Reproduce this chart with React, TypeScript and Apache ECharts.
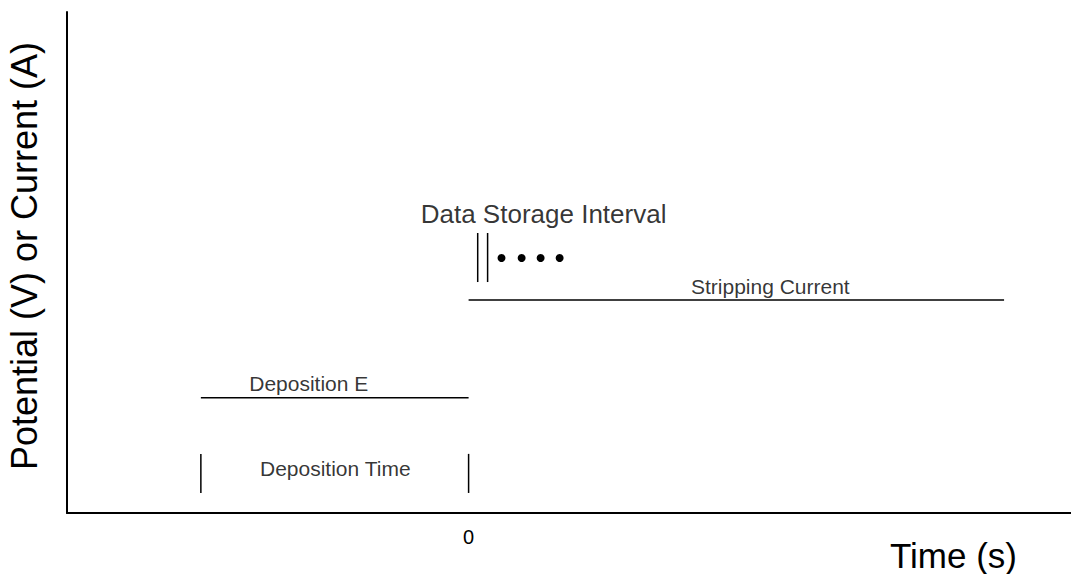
import React, { useEffect, useRef } from "react";
import * as echarts from "echarts";

// Time axis (s): deposition starts at -1, stripping runs from 0 to 2
const depositionE: [number, number][] = [[-1, 2.3], [0, 2.3]];
const strippingCurrent: [number, number][] = [[0, 4.25], [2, 4.25]];
const depositionTimeStart: [number, number][] = [[-1, 0.4], [-1, 1.18]];
const depositionTimeEnd: [number, number][] = [[0, 0.4], [0, 1.18]];
const storageMark1: [number, number][] = [[0.034, 4.61], [0.034, 5.59]];
const storageMark2: [number, number][] = [[0.071, 4.61], [0.071, 5.59]];
const samplePoints: [number, number][] = [[0.123, 5.09], [0.198, 5.09], [0.269, 5.09], [0.34, 5.09]];

const annotationNames = ["Deposition E", "Deposition Time", "Stripping Current", "Data Storage Interval"];
const annotationX = [-0.597, -0.498, 1.127, 0.28];
const annotationY = [2.59, 0.88, 4.53, 5.97];
const annotationSize = [21, 21, 21, 26];

const xTickLabels = [0];

const FONT = "Liberation Sans, Arial, sans-serif";

export default function App() {
  const ref = useRef<HTMLDivElement>(null);
  useEffect(() => {
    if (!ref.current) return;
    const chart = echarts.init(ref.current, undefined, { renderer: "svg" });
    const lineStyle = { color: "#000", width: 1.5 };
    const seg = (data: [number, number][]) => ({
      type: "line",
      data,
      symbol: "none",
      lineStyle,
      silent: true,
    });
    chart.setOption({
      animation: false,
      backgroundColor: "#fff",
      textStyle: { fontFamily: FONT, color: "#000" },
      grid: { left: 67, right: 0, top: 12, bottom: 61, containLabel: false, outerBoundsMode: "none" },
      xAxis: {
        type: "value",
        min: -1.5,
        max: 2.25,
        interval: 0.75,
        name: "Time (s)",
        nameLocation: "end",
        nameTextStyle: { fontSize: 35, color: "#000", fontFamily: FONT, align: "right", verticalAlign: "top", padding: [25, 69, 0, 0] },
        axisLine: { show: true, onZero: false, lineStyle: { color: "#000", width: 2 } },
        axisTick: { show: false },
        splitLine: { show: false },
        axisLabel: {
          customValues: xTickLabels,
          fontSize: 20,
          color: "#000",
          fontFamily: FONT,
          margin: 14,
        },
      },
      yAxis: {
        type: "value",
        min: 0,
        max: 10,
        name: "Potential (V) or Current (A)",
        nameLocation: "middle",
        nameGap: 25,
        nameTextStyle: { fontSize: 36, color: "#000", fontFamily: FONT, padding: [0, 0, 0, 13] },
        axisLine: { show: true, onZero: false, lineStyle: { color: "#000", width: 2 } },
        axisTick: { show: false },
        axisLabel: { show: false },
        splitLine: { show: false },
      },
      series: [
        seg(depositionE),
        seg(strippingCurrent),
        seg(depositionTimeStart),
        seg(depositionTimeEnd),
        seg(storageMark1),
        seg(storageMark2),
        {
          type: "scatter",
          data: samplePoints,
          symbol: "circle",
          symbolSize: 8,
          itemStyle: { color: "#000", opacity: 1 },
          silent: true,
        },
        {
          type: "scatter",
          data: annotationNames.map((n, i) => ({
            value: [annotationX[i], annotationY[i]],
            label: {
              show: true,
              position: "inside",
              formatter: n,
              fontSize: annotationSize[i],
              color: "#000",
              fontFamily: FONT,
            },
          })),
          symbolSize: 0,
          silent: true,
        },
      ],
    });
    return () => chart.dispose();
  }, []);
  return (
    <div
      ref={ref}
      style={{ position: "absolute", left: 0, top: 0, width: 1071, height: 574 }}
    />
  );
}
